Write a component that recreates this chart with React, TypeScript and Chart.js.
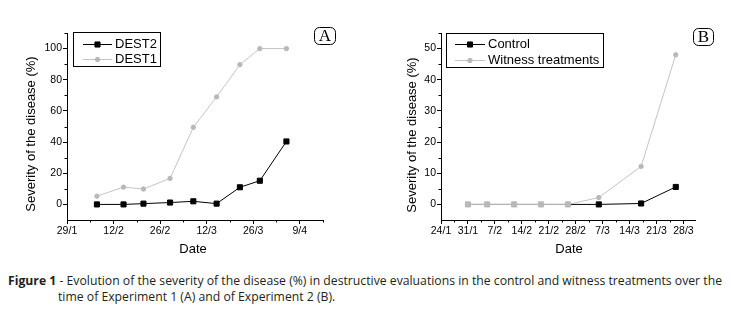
import React, { useEffect, useLayoutEffect, useRef } from 'react';
import { Chart, registerables } from 'chart.js';

Chart.register(...registerables);

// ---------- Panel A (Experiment 1) ----------
const ticksA = ['29/1', '12/2', '26/2', '12/3', '26/3', '9/4'];
const rangeA = ['29/1', '16/4'];
const datesA = ['7/2', '15/2', '21/2', '1/3', '8/3', '15/3', '22/3', '28/3', '5/4'];
const dest2 = [0, 0, 0.5, 1.2, 2, 0.5, 11, 15.2, 40.4];
const dest1 = [5.3, 11.1, 9.9, 16.7, 49.5, 69, 89.7, 100, 100];
const yTicksA = [0, 20, 40, 60, 80, 100];
const yRangeA = [-10, 110];

// ---------- Panel B (Experiment 2) ----------
const ticksB = ['24/1', '31/1', '7/2', '14/2', '21/2', '28/2', '7/3', '14/3', '21/3', '28/3'];
const rangeB = ['24/1', '31/3'];
const datesB = ['31/1', '5/2', '12/2', '19/2', '26/2', '6/3', '17/3', '26/3'];
const control = [0, 0, 0, 0, 0, 0, 0.3, 5.6];
const witness = [0, 0, 0, 0, 0, 2.2, 12.2, 48];
const yTicksB = [0, 10, 20, 30, 40, 50];
const yRangeB = [-5, 55];

const Y_TITLE = 'Severity of the disease (%)';
const X_TITLE = 'Date';

const SANS = '"Liberation Sans", Arial, sans-serif';
const SERIF = '"Liberation Serif", "Times New Roman", serif';
const GRAY_LINE = '#c4c4c4';
const GRAY_PT = '#b8b8b8';

const MONTH_LEN = [31, 28, 31, 30, 31, 30, 31, 31, 30, 31, 30, 31];
function dayOf(label: string): number {
  const [d, m] = label.split('/').map(Number);
  let n = d;
  for (let i = 0; i < m - 1; i++) n += MONTH_LEN[i];
  return n;
}

type Series = {
  label: string;
  dates: string[];
  values: number[];
  color: string;
  pointColor: string | string[];
  pointStyle: 'rect' | 'circle';
  radius: number;
  order: number;
};

type Spec = {
  xTicks: string[];
  range: string[];
  yTicks: number[];
  yRange: number[];
  series: Series[];
  area: { left: number; right: number; top: number; bottom: number };
  width: number;
  height: number;
  legend: { box: number[]; sample: number[]; textX: number; rows: number[] };
  letter: string;
  letterBox: number[];
  yTitle: number[];
  xTitle: number[];
};

function drawMarker(ctx: CanvasRenderingContext2D, style: string, x: number, y: number, r: number, color: string) {
  ctx.fillStyle = color;
  ctx.strokeStyle = color;
  ctx.lineWidth = 1;
  ctx.beginPath();
  if (style === 'rect') {
    const s = Math.SQRT1_2 * r;
    ctx.rect(x - s, y - s, 2 * s, 2 * s);
  } else {
    ctx.arc(x, y, r, 0, Math.PI * 2);
  }
  ctx.fill();
  ctx.stroke();
}

function buildConfig(spec: Spec): any {
  const x0 = dayOf(spec.range[0]);
  const toX = (labels: string[]) => labels.map((l) => dayOf(l) - x0);
  const majorX = toX(spec.xTicks);
  const xMax = dayOf(spec.range[1]) - x0;
  const minorX: number[] = [];
  for (let i = 0; i < majorX.length; i++) {
    const step = i < majorX.length - 1 ? majorX[i + 1] - majorX[i] : majorX[i] - majorX[i - 1];
    const m = majorX[i] + step / 2;
    if (m <= xMax + 1e-6) minorX.push(m);
  }
  const yStep = spec.yTicks[1] - spec.yTicks[0];
  const minorY: number[] = [];
  for (let v = spec.yTicks[0] - yStep / 2; v <= spec.yRange[1] + 1e-6; v += yStep) {
    if (v > spec.yRange[0]) minorY.push(v);
  }

  const { area, legend } = spec;

  const decor = {
    id: 'decor',
    afterDraw(chart: any) {
      const ctx: CanvasRenderingContext2D = chart.ctx;
      const xs = chart.scales.x;
      const ys = chart.scales.y;
      ctx.save();
      // minor ticks
      ctx.strokeStyle = '#000';
      ctx.lineWidth = 1;
      ctx.beginPath();
      for (const v of minorX) {
        const px = Math.round(xs.getPixelForValue(v)) + 0.5;
        ctx.moveTo(px, chart.chartArea.bottom);
        ctx.lineTo(px, chart.chartArea.bottom + 2.5);
      }
      for (const v of minorY) {
        const py = Math.round(ys.getPixelForValue(v)) + 0.5;
        ctx.moveTo(chart.chartArea.left, py);
        ctx.lineTo(chart.chartArea.left - 2.5, py);
      }
      ctx.stroke();

      // axis titles
      ctx.fillStyle = '#000';
      ctx.font = `13px ${SANS}`;
      ctx.textAlign = 'center';
      ctx.textBaseline = 'middle';
      ctx.save();
      ctx.translate(spec.yTitle[0], spec.yTitle[1]);
      ctx.rotate(-Math.PI / 2);
      ctx.fillText(Y_TITLE, 0, 0);
      ctx.restore();
      ctx.fillText(X_TITLE, spec.xTitle[0], spec.xTitle[1]);

      // legend
      const [bx1, by1, bx2, by2] = legend.box;
      ctx.strokeStyle = '#000';
      ctx.lineWidth = 1;
      ctx.strokeRect(Math.round(bx1) + 0.5, Math.round(by1) + 0.5, Math.round(bx2 - bx1), Math.round(by2 - by1));
      spec.series.forEach((s, i) => {
        const y = legend.rows[i];
        ctx.strokeStyle = s.color;
        ctx.lineWidth = 1;
        ctx.beginPath();
        ctx.moveTo(legend.sample[0], Math.round(y) + 0.5);
        ctx.lineTo(legend.sample[1], Math.round(y) + 0.5);
        ctx.stroke();
        const pc = Array.isArray(s.pointColor) ? s.pointColor[s.pointColor.length - 1] : s.pointColor;
        drawMarker(ctx, s.pointStyle, (legend.sample[0] + legend.sample[1]) / 2, Math.round(y) + 0.5, s.radius, pc);
        ctx.fillStyle = '#000';
        ctx.font = `13px ${SANS}`;
        ctx.textAlign = 'left';
        ctx.textBaseline = 'middle';
        ctx.fillText(s.label, legend.textX, y + 0.5);
      });

      // panel letter
      const [lx1, ly1, lx2, ly2] = spec.letterBox;
      ctx.strokeStyle = '#000';
      ctx.lineWidth = 1;
      ctx.beginPath();
      (ctx as any).roundRect(lx1 + 0.5, ly1 + 0.5, lx2 - lx1, ly2 - ly1, 5);
      ctx.stroke();
      ctx.fillStyle = '#000';
      ctx.font = `17px ${SERIF}`;
      ctx.textAlign = 'center';
      ctx.textBaseline = 'alphabetic';
      ctx.fillText(spec.letter, (lx1 + lx2) / 2 + 0.5, ly2 - 3);
      ctx.restore();
    },
  };

  return {
    type: 'line',
    data: {
      datasets: spec.series.map((s) => ({
        label: s.label,
        data: toX(s.dates).map((x, i) => ({ x, y: s.values[i] })),
        borderColor: s.color,
        backgroundColor: s.color,
        pointBackgroundColor: s.pointColor,
        pointBorderColor: s.pointColor,
        pointBorderWidth: 1,
        pointStyle: s.pointStyle,
        pointRadius: s.radius,
        borderWidth: 1,
        tension: 0,
        fill: false,
        order: s.order,
      })),
    },
    options: {
      responsive: false,
      animation: false,
      devicePixelRatio: 1,
      layout: {
        padding: {
          left: 0,
          top: area.top,
          right: spec.width - area.right,
          bottom: 0,
        },
      },
      plugins: { legend: { display: false }, tooltip: { enabled: false }, title: { display: false } },
      scales: {
        x: {
          type: 'linear',
          min: 0,
          max: xMax,
          afterBuildTicks: (s: any) => {
            s.ticks = majorX.map((v) => ({ value: v }));
          },
          afterFit: (s: any) => {
            s.height = spec.height - area.bottom;
          },
          ticks: {
            autoSkip: false,
            maxRotation: 0,
            padding: 1,
            color: '#000',
            font: { family: SANS, size: 10.5 },
            callback: (_v: any, i: number) => spec.xTicks[i],
          },
          grid: { drawOnChartArea: false, drawTicks: true, tickLength: 4, color: '#000', tickColor: '#000', lineWidth: 1 },
          border: { display: true, color: '#000', width: 1 },
        },
        y: {
          type: 'linear',
          min: spec.yRange[0],
          max: spec.yRange[1],
          afterBuildTicks: (s: any) => {
            s.ticks = spec.yTicks.map((v) => ({ value: v }));
          },
          afterFit: (s: any) => {
            s.width = area.left;
          },
          ticks: {
            padding: 1,
            color: '#000',
            font: { family: SANS, size: 10.5 },
            callback: (v: any) => String(v),
          },
          grid: { drawOnChartArea: false, drawTicks: true, tickLength: 4, color: '#000', tickColor: '#000', lineWidth: 1 },
          border: { display: true, color: '#000', width: 1 },
        },
      },
    },
    plugins: [decor],
  };
}

const specA: Spec = {
  xTicks: ticksA,
  range: rangeA,
  yTicks: yTicksA,
  yRange: yRangeA,
  series: [
    { label: 'DEST2', dates: datesA, values: dest2, color: '#000', pointColor: '#000', pointStyle: 'rect', radius: 3.6, order: 0 },
    { label: 'DEST1', dates: datesA, values: dest1, color: GRAY_LINE, pointColor: GRAY_PT, pointStyle: 'circle', radius: 2.2, order: 1 },
  ],
  area: { left: 67, right: 323, top: 33, bottom: 220 },
  width: 365,
  height: 260,
  legend: { box: [73, 32, 160, 66], sample: [83, 112], textX: 115, rows: [43.5, 58.5] },
  letter: 'A',
  letterBox: [314, 27, 335, 44],
  yTitle: [31.5, 134],
  xTitle: [193, 249.5],
};

const specB: Spec = {
  xTicks: ticksB,
  range: rangeB,
  yTicks: yTicksB,
  yRange: yRangeB,
  series: [
    {
      label: 'Control',
      dates: datesB,
      values: control,
      color: '#000',
      pointColor: datesB.map((_, i) => (i < 5 ? GRAY_PT : '#000')),
      pointStyle: 'rect',
      radius: 3.6,
      order: 1,
    },
    { label: 'Witness treatments', dates: datesB, values: witness, color: GRAY_LINE, pointColor: GRAY_PT, pointStyle: 'circle', radius: 2.2, order: 0 },
  ],
  area: { left: 71, right: 325, top: 33, bottom: 220 },
  width: 361,
  height: 260,
  legend: { box: [76, 33, 233, 67], sample: [85, 115], textX: 118, rows: [44, 60] },
  letter: 'B',
  letterBox: [323, 28, 343, 45],
  yTitle: [42, 135],
  xTitle: [199, 249.5],
};

function Panel({ spec, left }: { spec: Spec; left: number }) {
  const ref = useRef<HTMLCanvasElement>(null);
  useEffect(() => {
    const chart = new Chart(ref.current as HTMLCanvasElement, buildConfig(spec));
    return () => chart.destroy();
  }, [spec]);
  return (
    <canvas
      ref={ref}
      width={spec.width}
      height={spec.height}
      style={{ position: 'absolute', left, top: 0, width: spec.width, height: spec.height }}
    />
  );
}

function Caption() {
  const l1 = useRef<HTMLDivElement>(null);
  const l2 = useRef<HTMLDivElement>(null);
  useLayoutEffect(() => {
    const a = l1.current as HTMLDivElement;
    const b = l2.current as HTMLDivElement;
    const w = a.getBoundingClientRect().width;
    const s = 714 / w;
    a.style.transform = `scaleX(${s})`;
    b.style.transform = `scaleX(${s})`;
  }, []);
  const common: React.CSSProperties = {
    position: 'absolute',
    whiteSpace: 'nowrap',
    display: 'inline-block',
    fontFamily: '"Open Sans", "Noto Sans", sans-serif',
    fontSize: 12.5,
    lineHeight: '16px',
    color: '#231f20',
    transformOrigin: 'left top',
  };
  return (
    <>
      <div ref={l1} style={{ ...common, left: 8, top: 273 }}>
        <b>Figure 1</b> - Evolution of the severity of the disease (%) in destructive evaluations in the control and witness treatments over the
      </div>
      <div ref={l2} style={{ ...common, left: 58, top: 289 }}>
        time of Experiment 1 (A) and of Experiment 2 (B).
      </div>
    </>
  );
}

export default function App() {
  return (
    <div style={{ position: 'absolute', left: 0, top: 0, width: 731, height: 312, background: '#fff', overflow: 'hidden' }}>
      <Panel spec={specA} left={0} />
      <Panel spec={specB} left={370} />
      <Caption />
    </div>
  );
}
